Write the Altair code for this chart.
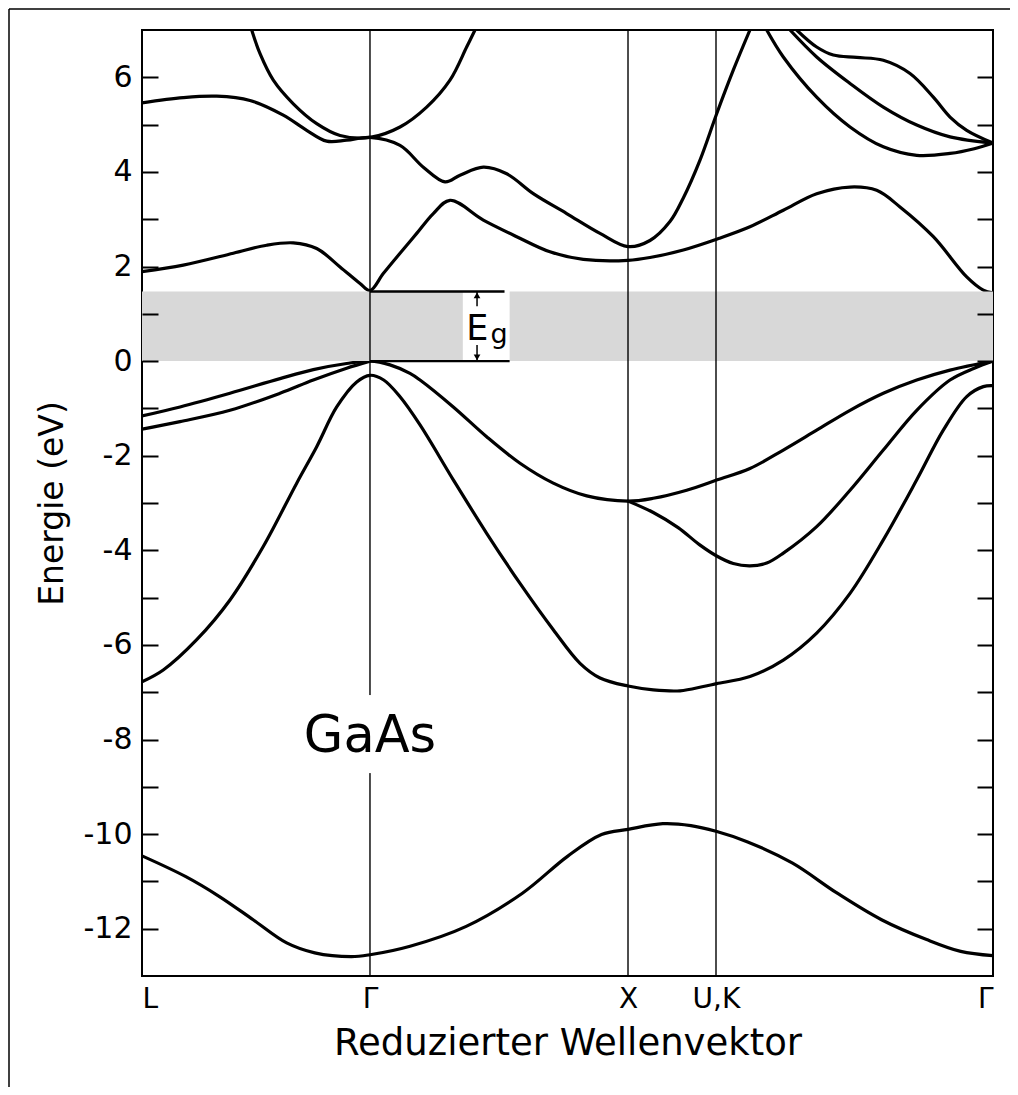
import altair as alt
import pandas as pd

# ---------------- data ----------------
# path coordinate k: percent of the plotted path length
sym_k = [0.0, 26.79, 57.11, 67.45, 100.0]
sym_names = ["L", "Γ", "X", "U,K", "Γ"]

E_min, E_max = -13, 7
E_gap = 1.47

# s-like lowest valence band
s_k = [0, 5.15, 9.1, 13.06, 17.0, 20.3, 24.6, 26.79, 31.5, 38.1, 44.7, 50.0, 54.0,
       57.11, 61.2, 64.5, 67.45, 71.1, 76.4, 81.7, 86.9, 92.2, 96.2, 100]
s_E = [-10.46, -10.90, -11.32, -11.81, -12.30, -12.51, -12.59, -12.55, -12.37, -11.95,
       -11.25, -10.47, -10.01, -9.90, -9.78, -9.82, -9.94, -10.16, -10.61, -11.25,
       -11.81, -12.23, -12.48, -12.57]

# valence band L(-6.8) -> Γ(-0.3) -> X(-6.9) -> Γ(-0.5)
v1_k = [0, 2.5, 6.43, 10.34, 14.25, 18.18, 20.53, 22.88, 25.23, 26.79, 28.4, 30.3,
        32.67, 36.58, 40.50, 44.42, 48.33, 51.47, 53.82, 57.11, 60.08, 63.22, 65.96,
        67.53, 71.44, 75.36, 79.28, 83.20, 87.11, 91.04, 94.16, 96.91, 98.86, 100]
v1_E = [-6.78, -6.53, -5.89, -5.05, -3.92, -2.58, -1.81, -0.97, -0.44, -0.30, -0.40,
        -0.75, -1.35, -2.51, -3.64, -4.70, -5.68, -6.39, -6.70, -6.87, -6.95, -6.97,
        -6.88, -6.82, -6.67, -6.32, -5.75, -4.91, -3.78, -2.51, -1.46, -0.75, -0.54, -0.52]

# top valence band L(-1.16) -> Γ(0) -> X(-2.96) -> U,K -> Γ(0)
v2_k = [0, 4.47, 10.34, 16.22, 20.13, 24.05, 26.79, 29.14, 31.49, 32.67, 36.58, 40.50,
        44.42, 48.33, 52.26, 57.11, 60.08, 64.00, 67.6, 71.44, 75.36, 79.28, 83.20,
        87.11, 91.04, 94.95, 100]
v2_E = [-1.16, -0.97, -0.68, -0.37, -0.18, -0.05, 0.0, -0.08, -0.26, -0.40, -0.97,
        -1.60, -2.16, -2.58, -2.85, -2.96, -2.90, -2.73, -2.51, -2.27, -1.88, -1.46,
        -1.04, -0.68, -0.40, -0.19, 0.0]

# second valence band near L: L(-1.44) -> Γ(0)
v3_k = [0, 4.47, 10.34, 16.22, 20.13, 24.05, 26.79]
v3_E = [-1.44, -1.28, -1.04, -0.68, -0.40, -0.15, 0.0]

# valence branch X(-2.96) -> min(-4.33) -> Γ(0)
v4_k = [57.11, 60.08, 63.0, 65.5, 67.53, 69.48, 71.44, 73.41, 75.36, 79.28, 83.20,
        87.11, 91.04, 94.95, 97.80, 100]
v4_E = [-2.96, -3.20, -3.52, -3.88, -4.12, -4.28, -4.33, -4.27, -4.06, -3.50, -2.73,
        -1.88, -1.04, -0.40, -0.15, 0.0]

# lowest conduction band
c1_k = [0, 4.85, 10.73, 14.65, 17.78, 20.53, 23.27, 25.62, 26.79, 28.35, 30.32, 32.28,
        34.23, 36.19, 40.11, 44.03, 47.94, 51.86, 57.11, 59.69, 63.61, 67.72, 71.44,
        75.36, 79.28, 83.20, 86.33, 89.07, 92.99, 96.91, 98.86, 100]
c1_E = [1.89, 2.03, 2.28, 2.45, 2.50, 2.38, 1.99, 1.64, 1.49, 1.85, 2.28, 2.70, 3.12,
        3.40, 2.98, 2.63, 2.31, 2.15, 2.13, 2.19, 2.35, 2.59, 2.84, 3.19, 3.54, 3.68,
        3.61, 3.26, 2.63, 1.78, 1.50, 1.44]

# second conduction band L(5.46) -> Γ(4.73) -> X(2.42) -> steep rise
c2_k = [0, 4.85, 8.78, 12.69, 16.60, 19.35, 21.70, 24.05, 26.79, 30.32, 33.06, 35.61,
        37.37, 40.11, 42.86, 45.98, 49.90, 53.82, 57.11, 59.69, 62.04, 63.61, 65.57,
        67.53, 69.48, 71.44]
c2_E = [5.46, 5.57, 5.60, 5.51, 5.20, 4.88, 4.65, 4.67, 4.73, 4.56, 4.10, 3.79, 3.93,
        4.10, 3.96, 3.54, 3.12, 2.70, 2.42, 2.55, 2.95, 3.45, 4.25, 5.23, 6.15, 7.0]

# parabola-like conduction band around Γ(4.73)
c3_k = [12.89, 13.87, 15.43, 17.78, 20.53, 23.27, 26.79, 30.32, 33.45, 36.19, 38.15, 39.13]
c3_E = [7.0, 6.50, 5.94, 5.44, 5.02, 4.77, 4.73, 4.95, 5.37, 5.94, 6.64, 7.0]

# upper conduction bands between U,K and Γ
c4_k = [73.41, 75.36, 79.28, 83.20, 87.11, 91.04, 94.95, 97.80, 100]
c4_E = [7.0, 6.43, 5.58, 4.95, 4.53, 4.35, 4.39, 4.49, 4.61]
c5_k = [76.15, 79.28, 83.20, 87.11, 91.04, 94.95, 100]
c5_E = [7.0, 6.43, 5.87, 5.37, 4.99, 4.74, 4.61]
c6_k = [76.93, 79.28, 81.23, 83.98, 87.11, 90.25, 92.99, 94.95, 96.91, 100]
c6_E = [7.0, 6.64, 6.47, 6.42, 6.36, 6.08, 5.58, 5.16, 4.88, 4.61]

# gap shading (two pieces, interrupted by the E_g label)
shade_k0 = [0.0, 43.2]
shade_k1 = [37.7, 100.0]

# E_g marker lines and arrows
eg_line_k1 = [42.6, 43.2]
eg_line_E = [E_gap, 0.0]
arrow_k = 39.37
arrow_shaft = [(E_gap, 1.16), (0.34, 0.0)]

# ---------------- build tables ----------------
bands = [("s", s_k, s_E), ("v1", v1_k, v1_E), ("v2", v2_k, v2_E), ("v3", v3_k, v3_E),
         ("v4", v4_k, v4_E), ("c1", c1_k, c1_E), ("c2", c2_k, c2_E), ("c3", c3_k, c3_E),
         ("c4", c4_k, c4_E), ("c5", c5_k, c5_E), ("c6", c6_k, c6_E)]
rows = []
for name, ks, es in bands:
    for i, (k, e) in enumerate(zip(ks, es)):
        rows.append({"band": name, "k": k, "E": e, "i": i})
df = pd.DataFrame(rows)

W, H = 851, 946
FONT = "DejaVu Sans"

xs = alt.Scale(domain=[0, 100], nice=False, zero=False)
ys = alt.Scale(domain=[E_min, E_max], nice=False, zero=False)

# label expression for the symmetry points
mids = [(sym_k[i] + sym_k[i + 1]) / 2 for i in range(len(sym_k) - 1)]
expr = f"'{sym_names[-1]}'"
for m, n in reversed(list(zip(mids, sym_names[:-1]))):
    expr = f"datum.value < {m} ? '{n}' : ({expr})"

# shading
shade_df = pd.DataFrame({"k0": shade_k0, "k1": shade_k1,
                         "E0": [0.0] * len(shade_k0), "E1": [E_gap] * len(shade_k0)})
shade = alt.Chart(shade_df).mark_rect(color="#d8d8d8").encode(
    x=alt.X("k0:Q", scale=xs, axis=None), x2="k1:Q",
    y=alt.Y("E0:Q", scale=ys, axis=None), y2="E1:Q")

# vertical symmetry lines
sym_df = pd.DataFrame({"k": sym_k[1:-1]})
symlines = alt.Chart(sym_df).mark_rule(color="black", strokeWidth=1.4).encode(
    x=alt.X("k:Q", scale=xs, axis=None))

# white gap in the Γ line behind the GaAs label
gap_df = pd.DataFrame({"k0": [sym_k[1] - 0.6], "k1": [sym_k[1] + 0.6],
                       "E0": [-8.71], "E1": [-7.06]})
gap = alt.Chart(gap_df).mark_rect(color="white").encode(
    x=alt.X("k0:Q", scale=xs, axis=None), x2="k1:Q",
    y=alt.Y("E0:Q", scale=ys, axis=None), y2="E1:Q")

# E_g lines
eg_df = pd.DataFrame({"k0": [sym_k[1]] * 2, "k1": eg_line_k1, "E": eg_line_E})
eglines = alt.Chart(eg_df).mark_rule(color="black", strokeWidth=2.4).encode(
    x=alt.X("k0:Q", scale=xs, axis=None), x2="k1:Q",
    y=alt.Y("E:Q", scale=ys, axis=None))

arr_df = pd.DataFrame({"k": [arrow_k] * 2, "E0": [a for a, b in arrow_shaft],
                       "E1": [b for a, b in arrow_shaft]})
shafts = alt.Chart(arr_df).mark_rule(color="black", strokeWidth=1.5).encode(
    x=alt.X("k:Q", scale=xs, axis=None),
    y=alt.Y("E0:Q", scale=ys, axis=None), y2="E1:Q")
head_df = pd.DataFrame({"k": [arrow_k] * 2, "E": [E_gap - 0.08, 0.08],
                        "shape": ["triangle-up", "triangle-down"]})
heads = alt.Chart(head_df).mark_point(filled=True, color="black", size=45, opacity=1).encode(
    x=alt.X("k:Q", scale=xs, axis=None),
    y=alt.Y("E:Q", scale=ys, axis=None),
    shape=alt.Shape("shape:N", scale=None, legend=None))

# texts
tE = alt.Chart(pd.DataFrame({"k": [39.4], "E": [0.44], "t": ["E"]})).mark_text(
    font=FONT, fontSize=35, align="center", baseline="alphabetic", color="black").encode(
    x=alt.X("k:Q", scale=xs, axis=None), y=alt.Y("E:Q", scale=ys, axis=None), text="t:N")
tg = alt.Chart(pd.DataFrame({"k": [41.95], "E": [0.38], "t": ["g"]})).mark_text(
    font=FONT, fontSize=27, align="center", baseline="alphabetic", color="black").encode(
    x=alt.X("k:Q", scale=xs, axis=None), y=alt.Y("E:Q", scale=ys, axis=None), text="t:N")
tGaAs = alt.Chart(pd.DataFrame({"k": [sym_k[1]], "E": [-7.95], "t": ["GaAs"]})).mark_text(
    font=FONT, fontSize=51, align="center", baseline="middle", color="black").encode(
    x=alt.X("k:Q", scale=xs, axis=None), y=alt.Y("E:Q", scale=ys, axis=None), text="t:N")

# bands with the main axes
lines = alt.Chart(df).mark_line(color="black", strokeWidth=3.2, interpolate="catmull-rom",
                                clip=True, strokeCap="round", strokeJoin="round").encode(
    x=alt.X("k:Q", scale=xs, axis=alt.Axis(
        values=sym_k, labelExpr=expr, grid=False, ticks=False, domain=False,
        labelFont=FONT, labelFontSize=28, labelPadding=9, labelFlush=True,
        labelColor="black", title="Reduzierter Wellenvektor", titleFont=FONT,
        titleFontSize=37, titleFontWeight="normal", titleColor="black",
        titleY=67, titleBaseline="middle")),
    y=alt.Y("E:Q", scale=ys, axis=alt.Axis(
        values=list(range(-12, 7, 2)),
        labelExpr="datum.value < 0 ? '-' + abs(datum.value) : '' + datum.value",
        ticks=False, domain=False, grid=False, labelFont=FONT, labelFontSize=30,
        labelPadding=10, labelColor="black", title="Energie (eV)", titleFont=FONT,
        titleFontSize=33, titleFontWeight="normal", titleColor="black",
        titleX=-90, titleY=H / 2, titleAngle=270, titleBaseline="middle",
        titleAlign="center")),
    detail="band:N", order="i:Q")

# inward ticks on both vertical edges
tick_vals = list(range(-12, 7))
tick_df = pd.DataFrame({"E": tick_vals})
ticks_left = alt.Chart(tick_df).mark_point(opacity=0).encode(
    y=alt.Y("E:Q", scale=ys, title=None, axis=alt.Axis(
        orient="right", offset=-W, values=tick_vals, labels=False, domain=False,
        grid=False, ticks=True, tickSize=16, tickWidth=2, tickColor="black", zindex=2)))
ticks_right = alt.Chart(tick_df).mark_point(opacity=0).encode(
    y=alt.Y("E:Q", scale=ys, title=None, axis=alt.Axis(
        orient="left", offset=-W, values=tick_vals, labels=False, domain=False,
        grid=False, ticks=True, tickSize=16, tickWidth=2, tickColor="black", zindex=2)))

# outer picture frame (decoration)
PAD_L, PAD_T, PAD_R, PAD_B = 134, 22, 17, 111
frame_top = alt.Chart(pd.DataFrame({"a": [0]})).mark_rule(color="black", strokeWidth=1.5).encode(
    x=alt.value(-PAD_L + 1), x2=alt.value(W + PAD_R), y=alt.value(-PAD_T + 1))
frame_left = alt.Chart(pd.DataFrame({"a": [0]})).mark_rule(color="black", strokeWidth=1.5).encode(
    x=alt.value(-PAD_L + 1), y=alt.value(-PAD_T + 1), y2=alt.value(H + PAD_B))

chart = alt.layer(
    lines, shade, symlines, gap, eglines, shafts, heads, tE, tg, tGaAs,
    ticks_left, ticks_right, frame_top, frame_left
).resolve_axis(x="independent", y="independent").properties(
    width=W, height=H,
    autosize=alt.AutoSizeParams(type="none"),
    padding={"left": PAD_L, "top": PAD_T, "right": PAD_R, "bottom": PAD_B},
).configure(font=FONT).configure_view(stroke="black", strokeWidth=2)

chart.save("out.html", embed_options={"renderer": "svg", "actions": False})
